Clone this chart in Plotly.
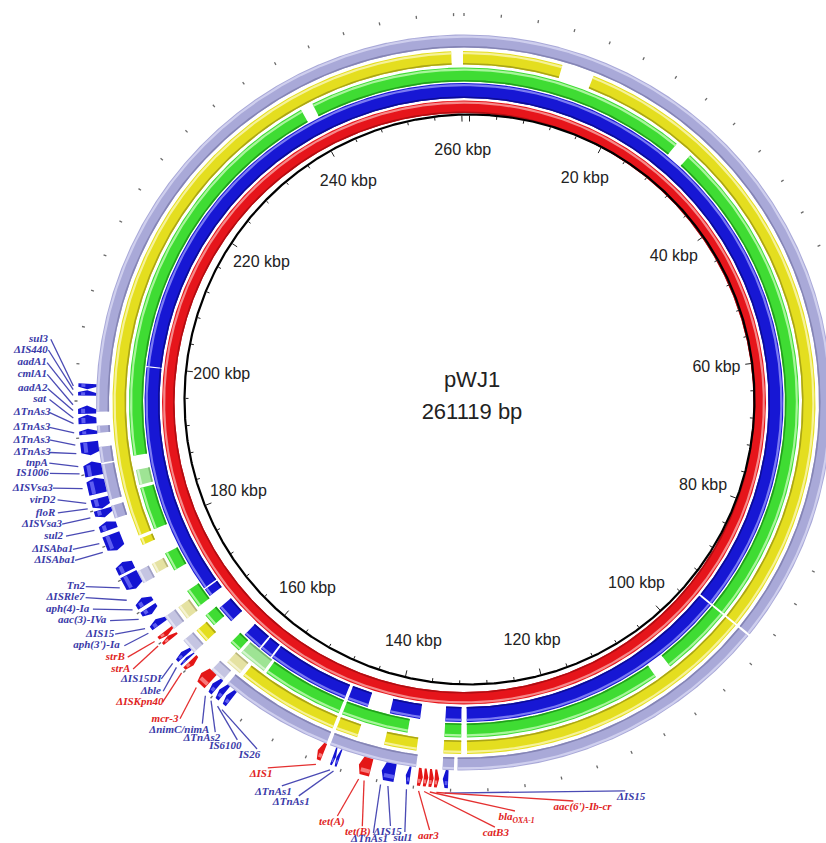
import re
import numpy as np
import plotly.graph_objects as go

# ---------------- data ----------------
GENOME_BP = 261119
N_KBP = GENOME_BP / 1000.0
PLASMID = "pWJ1"

tick_kbp = list(range(0, 261, 4))
label_kbp = list(range(20, 261, 20))

# BLAST-identity rings (kbp segments); "pale" = lower identity blocks
red_ring = [(0.0, N_KBP)]
blue_ring = [(0, 93.6), (93.85, 130.2), (130.9, 133.0), (136.3, 140.3), (143.3, 146.05),
             (146.5, 157.35), (157.6, 159.2), (159.45, 162.0), (164.5, 166.8),
             (168.8, 169.85), (170.05, 200.45), (200.6, N_KBP)]
green_ring = [(0, 28.6), (30.8, 93.6), (93.85, 103.0), (105.2, 130.2), (130.9, 133.0),
              (137.6, 146.05), (146.5, 156.8), (161.2, 162.6), (165.6, 167.2),
              (168.6, 171.0), (174.0, 176.4), (179.7, 185.1), (189.2, 240.0), (241.6, N_KBP)]
green_pale = [(157.2, 160.8), (185.5, 187.4)]
yellow_ring = [(0, 11.8), (15.7, 93.6), (93.85, 130.2), (130.9, 133.0), (136.2, 140.1),
               (143.4, 146.05), (146.5, 158.8), (164.8, 166.5), (178.5, 179.3),
               (179.7, 259.6), (261.0, N_KBP)]
yellow_pale = [(159.3, 161.3), (168.3, 170.0), (174.8, 176.0)]
lav_ring = [(0, 93.6), (93.85, 131.3), (131.7, 133.0), (136.0, 146.05), (146.5, 159.6),
            (182.5, 184.0), (184.7, 188.8), (189.0, 190.8), (192.4, 193.2), (194.8, N_KBP)]
lav_pale = [(160.3, 162.0), (164.8, 166.6), (168.3, 170.0), (174.5, 176.0)]

# annotated genes: start, end (kbp), strand, colour class
gene_start = [197.3, 196.6, 194.6, 193.5, 192.3, 190.0, 187.7, 185.7, 184.0, 183.0, 181.5,
              179.1, 176.5, 174.4, 172.3, 171.1, 169.6, 167.6, 168.15, 165.2, 164.7, 163.8,
              161.2, 160.2, 159.2, 158.2, 146.4, 144.95, 144.55, 140.9, 138.2, 136.5,
              135.1, 134.5, 133.9, 133.3, 132.3]
gene_end = [197.9, 197.2, 195.5, 194.5, 192.95, 191.5, 189.3, 187.5, 185.2, 183.9, 182.5,
            181.0, 177.7, 176.2, 173.2, 171.9, 170.4, 168.1, 168.7, 165.8, 165.0, 164.4,
            162.6, 160.9, 159.9, 158.9, 147.1, 145.3, 144.9, 142.3, 139.7, 137.0,
            135.65, 135.0, 134.4, 133.8, 132.9]
gene_strand = [-1, 1, 1, 1, 1, -1, 1, 1, -1, -1, 1, -1, 1, -1, 1, -1, 1, 1, -1, 1, 1, -1,
               1, 1, 1, 1, 1, -1, 1, 1, 1, 1, -1, -1, -1, -1, 1]
gene_class = ["b"] * 17 + ["r", "r", "b", "b", "r", "r", "b", "b", "b", "r", "b", "b", "r",
                           "b", "b", "r", "r", "r", "r", "b"]

label_text = ["sul3", "ΔIS440", "aadA1", "cmlA1", "aadA2", "sat", "ΔTnAs3", "ΔTnAs3",
              "ΔTnAs3", "ΔTnAs3", "tnpA", "IS1006", "ΔISVsa3", "virD2", "floR", "ΔISVsa3",
              "sul2", "ΔISAba1", "ΔISAba1", "Tn2", "ΔISRle7", "aph(4)-Ia", "aac(3)-IVa",
              "ΔIS15", "aph(3')-Ia", "strB", "strA", "ΔIS15DI", "Δble", "ΔISKpn40", "mcr-3",
              "ΔnimC/nimA", "ΔTnAs2", "IS6100", "IS26", "ΔIS1", "ΔTnAs1", "ΔTnAs1", "tet(A)",
              "tet(B)", "ΔTnAs1", "ΔIS15", "sul1", "aar3", "catB3", "bla<sub>OXA-1</sub>",
              "aac(6')-Ib-cr", "ΔIS15"]
label_class = ["b"] * 25 + ["r", "r", "b", "b", "r", "r", "b", "b", "b", "b", "r", "b", "b",
                            "r", "r", "b", "b", "b", "r", "r", "r", "r", "b"]
label_gene_kbp = [197.6, 197.2, 196.6, 195.6, 195.0, 194.2, 193.6, 192.6, 191.3, 190.4, 189.0,
                  188.2, 186.6, 185.0, 184.4, 183.4, 182.0, 180.5, 179.5, 175.3, 173.8, 172.6,
                  171.4, 170.2, 169.6, 168.5, 167.9, 165.5, 164.9, 164.1, 161.9, 160.6, 159.8,
                  158.9, 158.3, 146.7, 145.1, 144.7, 141.9, 141.3, 139.5, 138.7, 136.7, 135.4,
                  134.8, 134.2, 133.5, 132.6]

# ---------------- label placement (polar, around the backbone centre) ----------------
label_deg = [278.2, 276.7, 275.0, 273.4, 271.5, 270.0, 268.2, 266.2, 264.5, 262.8, 261.4,
             260.0, 258.0, 256.3, 254.6, 253.0, 251.3, 249.3, 247.8, 244.0, 242.7, 240.9,
             238.4, 236.5, 234.5, 233.0, 231.3, 227.8, 226.4, 225.4, 222.2,
             219.5, 217.4, 214.3, 211.3, 208.7, 205.9, 203.3, 197.6, 194.1, 192.5, 190.5,
             188.5, 185.3, 176.6, 173.7, 165.5, 158.3]
label_rad = [423, 424, 424, 423, 422, 420, 420, 421, 422, 423, 425, 426, 426, 424, 427, 426,
             426, 424, 426, 427, 432, 431, 422, 425, 424, 428, 431, 416, 423, 431, 431,
             420, 418.6, 412, 409, 420, 429.6, 431.6, 437, 440, 444, 433.7, 437.3, 432.4,
             428.3, 414, 414.7, 421.3]

W, H = 826, 843
BX_PX, BY_PX = 469.5, 399.5          # backbone centre (pixels)
RING_OFF = (-5.5, -3.0)              # centre of the identity rings relative to backbone
R_BACKBONE = 285
RING_R = {"red": (289.5, 302), "blue": (304.5, 319.5), "green": (321, 335),
          "yellow": (338, 351.5), "lav": (355, 368)}
COL = {
    "red": ("#e6151b", "#f58a8a", "#b00d12"),
    "blue": ("#1717d4", "#7b7bf2", "#0c0c95"),
    "green": ("#3fdc33", "#a8f59c", "#22a01c"),
    "yellow": ("#e4de1f", "#f6f29a", "#aaa516"),
    "lav": ("#a9a9d8", "#cfcfee", "#8585b5"),
    "green_p": ("#9ee494", "#d2f5cc", "#78b870"),
    "yellow_p": ("#e5e2a2", "#f5f3d2", "#b8b47c"),
    "lav_p": ("#c5c5e2", "#e3e3f3", "#a0a0c4"),
}


def tr(kbp):
    return np.deg2rad(np.asarray(kbp, dtype=float) / N_KBP * 360.0)


def pol(r, kbp, org=(0.0, 0.0)):
    t = tr(kbp)
    return org[0] + r * np.sin(t), org[1] + r * np.cos(t)


def arc_poly(s, e, r0, r1, org=RING_OFF, step=0.12):
    n = max(2, int(np.ceil((e - s) / step)) + 1)
    k = np.linspace(s, e, n)
    xo, yo = pol(r1, k, org)
    xi, yi = pol(r0, k[::-1], org)
    return (list(xo) + list(xi) + [xo[0]], list(yo) + list(yi) + [yo[0]])


def band(segs, r0, r1, color):
    X, Y = [], []
    for s, e in segs:
        xs, ys = arc_poly(s, e, r0, r1)
        X += xs + [None]
        Y += ys + [None]
    return go.Scatter(x=X, y=Y, mode="lines", fill="toself", fillcolor=color,
                      line=dict(width=0), hoverinfo="skip", showlegend=False)


fig = go.Figure()


def ring(segs, key, rkey):
    r0, r1 = RING_R[rkey]
    base, hi, dark = COL[key]
    fig.add_trace(band(segs, r0, r1, base))
    fig.add_trace(band(segs, r1 - 3.2, r1 - 1.0, hi))
    fig.add_trace(band(segs, r0, r0 + 1.6, dark))


ring(red_ring, "red", "red")
ring(blue_ring, "blue", "blue")
ring(green_ring, "green", "green")
ring(green_pale, "green_p", "green")
ring(yellow_ring, "yellow", "yellow")
ring(yellow_pale, "yellow_p", "yellow")
ring(lav_ring, "lav", "lav")
ring(lav_pale, "lav_p", "lav")

# backbone circle
kk = np.linspace(0, N_KBP, 1500)
bx, by = pol(R_BACKBONE, kk)
fig.add_trace(go.Scatter(x=bx, y=by, mode="lines", line=dict(color="black", width=2.2),
                         hoverinfo="skip", showlegend=False))

# ticks
TX, TY, OX, OY = [], [], [], []
for k in tick_kbp:
    ln = 6 if k % 20 == 0 else 3
    x0, y0 = pol(R_BACKBONE - 1, k)
    x1, y1 = pol(R_BACKBONE - 1 - ln, k)
    TX += [float(x0), float(x1), None]
    TY += [float(y0), float(y1), None]
    x0, y0 = pol(386.5, k, RING_OFF)
    x1, y1 = pol(389.5, k, RING_OFF)
    OX += [float(x0), float(x1), None]
    OY += [float(y0), float(y1), None]
fig.add_trace(go.Scatter(x=TX, y=TY, mode="lines", line=dict(color="#222", width=1),
                         hoverinfo="skip", showlegend=False))
fig.add_trace(go.Scatter(x=OX, y=OY, mode="lines", line=dict(color="#6a6a6a", width=1.3),
                         hoverinfo="skip", showlegend=False))

# kbp labels
lx, ly = pol(249, label_kbp)
fig.add_trace(go.Scatter(x=lx, y=ly, mode="text", text=[f"{k} kbp" for k in label_kbp],
                         textfont=dict(family="Liberation Sans, Arial", size=16, color="#222"),
                         hoverinfo="skip", showlegend=False))

# genes
GENE_COL = {"b": ("#1414d2", "#5d5df0"), "r": ("#e41616", "#f77a7a")}
RC, HW = 377, 9.0


def arrow(s, e, strand, rc, hw):
    L = e - s
    head = min(0.4 * L, 0.35)
    if strand > 0:
        b0, b1, tip = s, e - head, e
    else:
        b0, b1, tip = e, s + head, s
    kb = np.linspace(b0, b1, 8)
    xo, yo = pol(rc + hw, kb, RING_OFF)
    xi, yi = pol(rc - hw, kb[::-1], RING_OFF)
    xt, yt = pol(rc, tip, RING_OFF)
    return (list(xo) + [float(xt)] + list(xi) + [xo[0]],
            list(yo) + [float(yt)] + list(yi) + [yo[0]])


for cls in ("b", "r"):
    X, Y, HX, HY = [], [], [], []
    for s, e, st, c in zip(gene_start, gene_end, gene_strand, gene_class):
        if c != cls:
            continue
        xs, ys = arrow(s, e, st, RC, HW)
        X += xs + [None]
        Y += ys + [None]
        L = e - s
        head = min(0.4 * L, 0.35)
        hs, he = (s + 0.05, e - head) if st > 0 else (s + head, e - 0.05)
        xs, ys = arc_poly(hs, he, RC + 2, RC + 6, step=0.05)
        HX += xs + [None]
        HY += ys + [None]
    fig.add_trace(go.Scatter(x=X, y=Y, mode="lines", fill="toself", fillcolor=GENE_COL[cls][0],
                             line=dict(width=0), hoverinfo="skip", showlegend=False))
    fig.add_trace(go.Scatter(x=HX, y=HY, mode="lines", fill="toself", fillcolor=GENE_COL[cls][1],
                             line=dict(width=0), hoverinfo="skip", showlegend=False))

# gene labels with leader lines
LAB_COL = {"b": ("#3a3aa8", "#4a4ab4"), "r": ("#e02424", "#e43030")}
FS = 11
for cls in ("b", "r"):
    LX, LY, TXs, TYs, TT = [], [], [], [], []
    for txt, c, gk, deg, rr in zip(label_text, label_class, label_gene_kbp, label_deg, label_rad):
        if c != cls:
            continue
        t = np.deg2rad(deg)
        px, py = rr * np.sin(t), rr * np.cos(t)
        gx, gy = pol(391, gk, RING_OFF)
        LX += [float(gx), px, None]
        LY += [float(gy), py, None]
        plain = re.sub(r"<sub>.*?</sub>", "xx", txt)
        w = len(plain) * FS * 0.47
        if deg >= 222:           # side labels: right end of text at the leader line
            TXs.append(px - w / 2 - 2)
            TYs.append(py)
        else:                    # bottom labels: nearest corner at the leader line
            ux, uy = np.sin(t), np.cos(t)
            m = max(abs(ux), abs(uy))
            TXs.append(px + ux / m * (w / 2 + 2))
            TYs.append(py + uy / m * (FS / 2 + 1))
        TT.append(txt)
    fig.add_trace(go.Scatter(x=LX, y=LY, mode="lines", line=dict(color=LAB_COL[cls][1], width=1.3),
                             hoverinfo="skip", showlegend=False))
    fig.add_trace(go.Scatter(x=TXs, y=TYs, mode="text", text=TT,
                             textfont=dict(family="Liberation Serif, Times New Roman", size=FS,
                                           color=LAB_COL[cls][0], style="italic", weight="bold"),
                             hoverinfo="skip", showlegend=False))

# centre title
fig.add_trace(go.Scatter(x=[2.5, 2.5], y=[18, -14], mode="text", text=[PLASMID, f"{GENOME_BP} bp"],
                         textfont=dict(family="Liberation Sans, Arial", size=22, color="#222"),
                         hoverinfo="skip", showlegend=False))

fig.update_layout(
    width=W, height=H, margin=dict(l=0, r=0, t=0, b=0),
    paper_bgcolor="white", plot_bgcolor="white",
    xaxis=dict(range=[-BX_PX, W - BX_PX], visible=False, fixedrange=True),
    yaxis=dict(range=[BY_PX - H, BY_PX], visible=False, fixedrange=True),
)
fig.write_html("out.html", config={"displayModeBar": False},
               post_script="document.body.style.margin='0px';document.body.style.overflow='hidden';")
